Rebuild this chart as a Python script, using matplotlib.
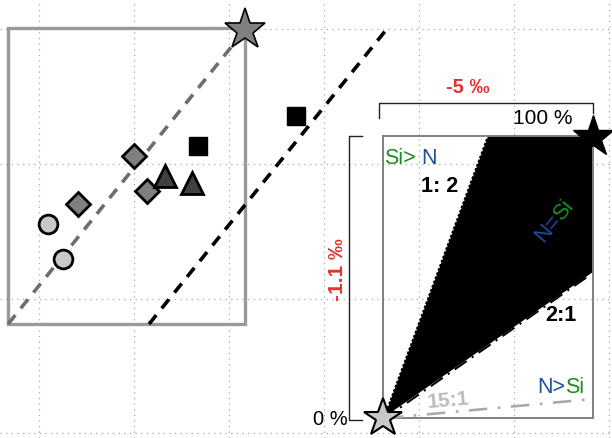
import math
import matplotlib
matplotlib.use("Agg")
import matplotlib.pyplot as plt
from matplotlib import transforms
from matplotlib.patches import Rectangle, Polygon

FONT = ["Liberation Sans", "DejaVu Sans"]
plt.rcParams["font.family"] = FONT

GREEN = "#1e8c1e"
BLUE = "#1f4f9e"
RED = "#e8302c"

# ---- data (grid units) ----
circle_x = [0.095, 0.253]
circle_y = [1.554, 1.294]
diamond_x = [0.411, 1.000, 1.137]
diamond_y = [1.703, 2.059, 1.799]
triangle_x = [1.326, 1.611]
triangle_y = [1.911, 1.859]
square_x = [1.674, 2.705]
square_y = [2.134, 2.357]
gray_star = (2.168, 2.996)

left_box_x = [-0.326, 2.168]
left_box_y = [0.810, 3.010]
gray_line_x = [-0.326, 2.168]
gray_line_y = [0.810, 2.996]
black_line_x = [1.158, 3.653]
black_line_y = [0.810, 2.996]

inner_x = [3.621, 5.832]
inner_y = [0.112, 2.208]
fill_x = [3.621, 4.716, 5.832, 5.832]
fill_y = [0.112, 2.208, 2.208, 1.197]
line_12_x = [3.621, 4.716]
line_12_y = [0.112, 2.208]
line_21_x = [3.621, 5.800]
line_21_y = [0.100, 1.175]
line_151_x = [3.640, 5.832]
line_151_y = [0.110, 0.253]
black_star = (5.832, 2.201)
origin_star = (3.621, 0.112)

top_bracket_x = [3.579, 3.579, 5.832, 5.832]
top_bracket_y = [2.342, 2.454, 2.454, 2.379]
left_bracket_x = [3.400, 3.263, 3.263, 3.400]
left_bracket_y = [2.208, 2.208, 0.097, 0.097]

fig = plt.figure(figsize=(6.12, 4.38), dpi=100)
ax = fig.add_axes([0, 0, 1, 1])
ax.set_xlim(-0.411, 6.032)
ax.set_ylim(-0.037, 3.219)
ax.set_xticks(range(0, 7))
ax.set_yticks(range(0, 4))
ax.grid(True, color="#a8a8a8", linestyle=(0, (1, 3.5)), lw=0.9)
ax.set_axisbelow(True)
ax.tick_params(length=0, labelbottom=False, labelleft=False)
for s in ax.spines.values():
    s.set_visible(False)

# left panel
ax.add_patch(Rectangle((left_box_x[0], left_box_y[0]), left_box_x[1] - left_box_x[0],
                       left_box_y[1] - left_box_y[0], fill=False, ec="#999999", lw=2.4, zorder=2))
ax.plot(gray_line_x, gray_line_y, color="#6e6e6e", lw=2.6, dashes=(3.2, 2.4), zorder=3)
ax.plot(black_line_x, black_line_y, color="black", lw=2.6, dashes=(3.2, 2.4), zorder=3)
ax.plot(circle_x, circle_y, "o", ms=13.5, mfc="#c8c8c8", mec="black", mew=2.0, ls="none", zorder=5)
ax.plot(diamond_x, diamond_y, "D", ms=12.5, mfc="#7f7f7f", mec="black", mew=2.0, ls="none", zorder=5)
ax.plot(triangle_x, triangle_y, "^", ms=16, mfc="#404040", mec="black", mew=2.0, ls="none", zorder=5)
ax.plot(square_x, square_y, "s", ms=13, mfc="black", mec="black", mew=1.0, ls="none", zorder=5)
ax.plot([gray_star[0]], [gray_star[1]], "*", ms=31, mfc="#808080", mec="black", mew=1.2, zorder=6)

# right panel
ax.add_patch(Polygon(list(zip(fill_x, fill_y)), closed=True, fc="black", ec="none", zorder=2))
ax.add_patch(Rectangle((inner_x[0], inner_y[0]), inner_x[1] - inner_x[0], inner_y[1] - inner_y[0],
                       fill=False, ec="#808080", lw=1.4, zorder=3))
ax.plot(line_12_x, line_12_y, color="white", lw=1.6, linestyle=(0, (0.8, 1.2)), zorder=4)
ax.plot(line_21_x, line_21_y, color="black", lw=1.5, linestyle=(0, (7, 3, 1, 3)), zorder=4)
ax.plot(line_151_x, line_151_y, color="#aaaaaa", lw=1.9, linestyle=(0, (7, 4, 1, 4)), zorder=4)
ax.plot(top_bracket_x, top_bracket_y, color="#222222", lw=1.0, zorder=4)
ax.plot(left_bracket_x, left_bracket_y, color="#222222", lw=1.0, zorder=4)
ax.plot([black_star[0]], [black_star[1]], "*", ms=31, mfc="black", mec="black", mew=1.0, zorder=6)
ax.plot([origin_star[0]], [origin_star[1]], "*", ms=29, mfc="#c8c8c8", mec="black", mew=1.5, zorder=6)

fig.canvas.draw()
renderer = fig.canvas.get_renderer()


def text_width(s, fontsize, weight):
    t = ax.text(0, 0, s, fontsize=fontsize, weight=weight, family=FONT)
    w = t.get_window_extent(renderer).width
    t.remove()
    return w


def multicolor(x, y, parts, fontsize, weight="normal", rotation=0, ha="left"):
    full = "".join(p for p, _ in parts)
    total = text_width(full, fontsize, weight)
    base = -total / 2 if ha == "center" else 0.0
    th = math.radians(rotation)
    prefix = ""
    for p, c in parts:
        prefix += p
        ps = p.lstrip()
        start = base + text_width(prefix, fontsize, weight) - text_width(ps, fontsize, weight)
        tr = transforms.offset_copy(ax.transData, fig=fig, x=start * math.cos(th),
                                    y=start * math.sin(th), units="dots")
        ax.text(x, y, ps, color=c, fontsize=fontsize, weight=weight, rotation=rotation,
                rotation_mode="anchor", ha="left", va="center_baseline", transform=tr,
                family=FONT, zorder=7)


ax.text(4.516, 2.572, "-5 ‰", color=RED, fontsize=14.5, weight="bold", ha="center", va="center", zorder=7)
ax.text(5.305, 2.335, "100 %", color="black", fontsize=15, ha="center", va="center", zorder=7)
ax.text(3.137, 1.212, "-1.1 ‰", color=RED, fontsize=15, weight="bold", rotation=90,
        ha="center", va="center", zorder=7)
ax.text(3.253, 0.104, "0 %", color="black", fontsize=14.5, ha="right", va="center", zorder=7)
ax.text(4.221, 1.836, "1: 2", color="black", fontsize=15.5, weight="bold", ha="center", va="center", zorder=7)
ax.text(5.495, 0.870, "2:1", color="black", fontsize=15.5, weight="bold", ha="center", va="center", zorder=7)
ax.text(4.305, 0.240, "15:1", color="#bbbbbb", fontsize=15, weight="bold", rotation=5,
        rotation_mode="anchor", ha="center", va="center", zorder=7)
multicolor(3.632, 2.060, [("Si>", GREEN), (" N", BLUE)], 15.5)
multicolor(5.242, 0.355, [("N>", BLUE), ("Si", GREEN)], 15.5)
multicolor(5.411, 1.591, [("N=", BLUE), ("Si", GREEN)], 16, rotation=50, ha="center")

fig.savefig("out.png", dpi=100)
